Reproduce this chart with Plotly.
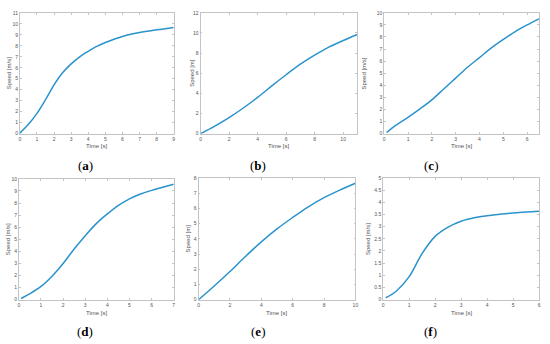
import plotly.graph_objects as go

# ---- data ----
t_a = [0, 0.5, 1, 1.5, 2, 2.5, 3, 3.5, 4, 4.5, 5, 6, 7, 8, 9]
v_a = [0.05, 0.85, 1.85, 3.1, 4.45, 5.55, 6.35, 7.0, 7.5, 7.95, 8.3, 8.85, 9.2, 9.45, 9.67]

t_b = [0, 1, 2, 3, 4, 5, 6, 7, 8, 9, 10, 11]
v_b = [0, 0.75, 1.6, 2.55, 3.6, 4.75, 5.85, 6.9, 7.8, 8.6, 9.25, 9.85]

t_c = [0.1, 0.5, 1, 1.5, 2, 2.5, 3, 3.5, 4, 4.5, 5, 5.5, 6, 6.5]
v_c = [0.1, 0.7, 1.35, 2.05, 2.8, 3.7, 4.6, 5.5, 6.3, 7.1, 7.8, 8.45, 9.0, 9.5]

t_d = [0.1, 0.5, 1, 1.5, 2, 2.5, 3, 3.5, 4, 4.5, 5, 5.5, 6, 6.5, 7]
v_d = [0.1, 0.5, 1.1, 1.95, 3.0, 4.2, 5.3, 6.3, 7.1, 7.8, 8.35, 8.75, 9.05, 9.3, 9.55]

t_e = [0, 1, 2, 3, 4, 5, 6, 7, 8, 9, 10]
v_e = [0, 0.9, 1.85, 2.85, 3.8, 4.65, 5.4, 6.1, 6.7, 7.2, 7.65]

t_f = [0.1, 0.5, 1, 1.5, 2, 2.5, 3, 3.5, 4, 4.5, 5, 5.5, 6]
v_f = [0.08, 0.35, 0.95, 1.9, 2.6, 2.98, 3.22, 3.36, 3.45, 3.51, 3.56, 3.6, 3.63]

panels = [
    dict(t=t_a, v=v_a, xr=[0, 9], xt=list(range(0, 10)), yr=[0, 11], yt=list(range(0, 12)),
         ylab="Speed [m/s]", tag="a"),
    dict(t=t_b, v=v_b, xr=[0, 11], xt=[0, 2, 4, 6, 8, 10], yr=[0, 12], yt=[0, 2, 4, 6, 8, 10, 12],
         ylab="Speed [m]", tag="b"),
    dict(t=t_c, v=v_c, xr=[0, 6.5], xt=[0, 1, 2, 3, 4, 5, 6], yr=[0, 10], yt=list(range(0, 11)),
         ylab="Speed [m/s]", tag="c"),
    dict(t=t_d, v=v_d, xr=[0, 7], xt=list(range(0, 8)), yr=[0, 10], yt=list(range(0, 11)),
         ylab="Speed [m/s]", tag="d"),
    dict(t=t_e, v=v_e, xr=[0, 10], xt=[0, 2, 4, 6, 8, 10], yr=[0, 8], yt=list(range(0, 9)),
         ylab="Speed [m]", tag="e"),
    dict(t=t_f, v=v_f, xr=[0, 6], xt=list(range(0, 7)), yr=[0, 5],
         yt=[0, 0.5, 1, 1.5, 2, 2.5, 3, 3.5, 4, 4.5, 5], ylab="Speed [m/s]", tag="f"),
]

W, H = 550, 344
# pixel boxes (left, right, top, bottom)
boxes = [
    (19, 174, 10, 133), (201, 359, 10, 133), (386, 542, 10, 133),
    (18, 174, 179, 302), (199, 357, 178, 302), (385, 542, 178, 302),
]
ylab_x = [8, 193, 366, 7, 188, 370]
tag_y = [165, 165, 165, 334, 334, 334]
tag_x = [85, 259, 433, 85, 259, 433]

fig = go.Figure()
annotations = []
layout = {}
for i, (p, b) in enumerate(zip(panels, boxes)):
    n = "" if i == 0 else str(i + 1)
    xa, ya = "x" + n, "y" + n
    l, r, t, bt = b
    fig.add_trace(go.Scatter(x=p["t"], y=p["v"], mode="lines", xaxis=xa, yaxis=ya,
                             line=dict(color="#2a93cc", width=1.5, shape="spline", smoothing=1.0),
                             showlegend=False, hoverinfo="skip"))
    common = dict(showline=True, mirror="ticks", linecolor="#c4c4c4", linewidth=0.8,
                  ticks="inside", ticklen=2, tickcolor="#c4c4c4", showgrid=False, zeroline=False,
                  tickfont=dict(size=5, color="#555555", family="Liberation Sans"))
    layout["xaxis" + n] = dict(domain=[l / W, r / W], range=p["xr"], tickvals=p["xt"],
                               anchor=ya, **common)
    layout["yaxis" + n] = dict(domain=[1 - bt / H, 1 - t / H], range=p["yr"], tickvals=p["yt"],
                               anchor=xa, **common)
    annotations.append(dict(text="Time [s]", x=(l + r) / 2 / W, y=1 - (bt + 13) / H,
                            xref="paper", yref="paper", showarrow=False,
                            xanchor="center", yanchor="middle",
                            font=dict(size=6, color="#555555", family="Liberation Sans")))
    annotations.append(dict(text=p["ylab"], x=ylab_x[i] / W, y=1 - (t + bt) / 2 / H,
                            xref="paper", yref="paper", showarrow=False, textangle=-90,
                            xanchor="center", yanchor="middle",
                            font=dict(size=6, color="#555555", family="Liberation Sans")))
    annotations.append(dict(text="(<b>" + p["tag"] + "</b>)", x=tag_x[i] / W, y=1 - tag_y[i] / H,
                            xref="paper", yref="paper", showarrow=False,
                            xanchor="center", yanchor="middle",
                            font=dict(size=13, color="#000000", family="Liberation Serif")))

fig.update_layout(width=W, height=H, margin=dict(l=0, r=0, t=0, b=0),
                  paper_bgcolor="white", plot_bgcolor="white",
                  annotations=annotations, **layout)
fig.write_html("out.html", config={"displayModeBar": False},
               post_script="document.body.style.margin='0';document.body.style.overflow='hidden';")
